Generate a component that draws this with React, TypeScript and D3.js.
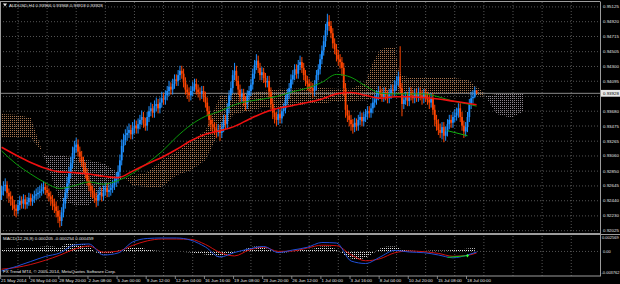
import React from "react";
import * as d3 from "d3";

const W = 620;
const H = 284;

// AUDUSD H4 candles, prices in 1/10000 units
const firstOpen = 9252;
const closes = [
  9258,9264,9266,9255,9250,9246,9238,9233,9230,9238,
  9244,9240,9246,9239,9242,9248,9243,9247,9251,9253,
  9255,9257,9260,9263,9259,9255,9250,9246,9240,9236,
  9230,9222,9216,9228,9240,9255,9268,9282,9296,9310,
  9318,9322,9312,9305,9298,9290,9282,9272,9265,9258,
  9254,9248,9244,9252,9255,9250,9258,9262,9256,9259,
  9262,9266,9270,9275,9284,9300,9320,9328,9335,9338,
  9342,9336,9345,9348,9344,9350,9356,9360,9351,9348,
  9360,9368,9372,9366,9375,9378,9372,9380,9386,9384,
  9390,9396,9402,9398,9406,9412,9410,9418,9424,9420,
  9408,9398,9394,9390,9396,9402,9406,9398,9394,9392,
  9396,9388,9380,9368,9356,9350,9346,9344,9340,9342,
  9338,9346,9356,9350,9372,9390,9400,9418,9424,9410,
  9398,9388,9392,9382,9378,9390,9396,9405,9420,9432,
  9438,9428,9418,9422,9414,9408,9410,9395,9378,9366,
  9360,9356,9364,9358,9368,9372,9384,9392,9400,9412,
  9418,9426,9420,9432,9436,9428,9418,9410,9406,9402,
  9400,9396,9404,9418,9426,9440,9452,9465,9480,9492,
  9486,9476,9462,9454,9446,9440,9436,9428,9400,9370,
  9362,9356,9350,9346,9352,9348,9356,9360,9354,9360,
  9364,9368,9366,9372,9380,9384,9390,9396,9392,9388,
  9394,9390,9386,9392,9398,9396,9404,9410,9416,9400,
  9378,9384,9388,9382,9394,9390,9386,9392,9388,9394,
  9390,9386,9392,9388,9384,9380,9386,9370,9356,9350,
  9342,9338,9346,9334,9340,9350,9356,9352,9360,9362,
  9366,9372,9360,9348,9340,9346,9360,9378,9386,9388,
  9397,9393,
];
const highs = [
  9265,9271,9275,9271,9261,9257,9251,9245,9239,9245,
  9251,9250,9253,9252,9249,9255,9254,9253,9258,9261,
  9263,9265,9268,9271,9269,9265,9261,9257,9252,9247,
  9243,9237,9231,9235,9248,9263,9277,9291,9305,9319,
  9327,9331,9329,9319,9313,9305,9297,9289,9279,9271,
  9265,9261,9255,9259,9263,9262,9265,9269,9268,9266,
  9269,9273,9277,9283,9293,9308,9329,9337,9343,9347,
  9351,9349,9353,9356,9355,9358,9363,9369,9367,9359,
  9367,9375,9380,9378,9383,9387,9385,9387,9395,9393,
  9397,9403,9410,9408,9413,9419,9419,9425,9431,9431,
  9427,9415,9405,9401,9403,9409,9413,9413,9405,9401,
  9403,9403,9395,9387,9375,9363,9357,9353,9351,9350,
  9349,9353,9363,9363,9379,9397,9409,9425,9435,9431,
  9417,9405,9399,9399,9389,9397,9403,9413,9427,9439,
  9447,9445,9435,9429,9428,9421,9417,9417,9401,9385,
  9373,9367,9371,9371,9375,9379,9391,9399,9407,9419,
  9425,9433,9433,9439,9445,9443,9435,9425,9417,9413,
  9409,9407,9411,9425,9433,9447,9459,9473,9489,9503,
  9501,9493,9483,9469,9461,9453,9447,9443,9435,9407,
  9377,9369,9363,9357,9359,9358,9363,9367,9366,9367,
  9371,9375,9375,9379,9387,9391,9397,9403,9403,9399,
  9401,9401,9397,9399,9405,9405,9411,9417,9423,9458,
  9407,9391,9395,9395,9401,9401,9397,9399,9399,9401,
  9401,9397,9399,9399,9395,9391,9393,9393,9377,9363,
  9357,9351,9353,9353,9347,9357,9363,9363,9367,9371,
  9373,9379,9379,9367,9355,9353,9367,9385,9395,9397,
  9402,9397,
];
const lows = [
  9245,9251,9257,9247,9241,9237,9231,9223,9221,9225,
  9231,9233,9233,9232,9233,9237,9237,9237,9241,9245,
  9246,9248,9251,9254,9252,9247,9243,9237,9231,9227,
  9221,9213,9207,9209,9221,9233,9247,9259,9275,9289,
  9303,9311,9305,9297,9291,9283,9275,9265,9257,9249,
  9247,9241,9235,9237,9245,9243,9244,9251,9249,9249,
  9251,9255,9259,9263,9268,9277,9293,9311,9321,9327,
  9331,9329,9329,9337,9337,9337,9343,9349,9345,9341,
  9341,9353,9361,9359,9359,9368,9365,9365,9373,9377,
  9377,9383,9389,9391,9391,9399,9403,9403,9411,9413,
  9401,9391,9385,9381,9383,9389,9395,9391,9387,9383,
  9385,9381,9373,9361,9347,9341,9337,9335,9331,9333,
  9327,9331,9339,9343,9343,9365,9383,9393,9411,9403,
  9391,9381,9381,9375,9369,9371,9383,9389,9398,9413,
  9425,9421,9411,9411,9407,9401,9401,9387,9371,9357,
  9351,9347,9349,9351,9351,9361,9365,9377,9385,9393,
  9405,9411,9413,9413,9425,9421,9411,9403,9397,9395,
  9393,9387,9389,9397,9411,9419,9433,9445,9457,9473,
  9479,9469,9455,9447,9437,9431,9427,9417,9389,9359,
  9353,9347,9341,9337,9339,9341,9341,9349,9347,9347,
  9353,9357,9359,9359,9365,9373,9377,9383,9385,9381,
  9381,9383,9379,9379,9385,9389,9389,9397,9403,9393,
  9361,9371,9377,9375,9375,9383,9379,9379,9381,9381,
  9383,9377,9379,9381,9377,9371,9373,9363,9347,9341,
  9335,9331,9329,9325,9327,9333,9343,9345,9345,9353,
  9355,9359,9353,9341,9331,9333,9339,9353,9371,9379,
  9386,9392,
];

// moving averages sampled every 8 bars (last sample at the final bar)
const maBars = [0,8,16,24,32,40,48,56,64,72,80,88,96,104,112,120,128,136,144,152,160,168,176,184,192,200,208,216,224,232,240,248,256,261];
const maRed = [9318,9307,9297,9289,9284,9283,9281,9278,9276,9285,9295,9304,9315,9327,9336,9341,9347,9357,9366,9372,9376,9380,9385,9392,9394,9390,9386,9388,9388,9387,9385,9382,9379,9377];
const maGreen = [9313,9295,9281,9269,9261,9265,9270,9267,9272,9282,9296,9312,9332,9349,9361,9368,9377,9382,9385,9389,9395,9400,9408,9419,9415,9403,9393,9392,9392,9392,9388,9382,9378,9375];

// Ichimoku cloud (Senkou spans), shifted 26 bars ahead
const cloudBars = [0,8,16,24,32,40,48,56,64,72,80,88,96,104,112,120,128,136,144,152,160,168,176,184,192,200,204,208,212,216,218,220,224,232,240,248,256,264,272,280,287];
const spanA = [9364,9363,9359,9300,9245,9238,9238,9258,9272,9279,9283,9300,9311,9327,9341,9389,9393,9393,9396,9399,9399,9400,9400,9399,9399,9408,9436,9453,9457,9457,9428,9417,9415,9414,9414,9414,9412,9396,9364,9359,9368];
const spanB = [9331,9331,9331,9307,9307,9304,9300,9296,9283,9265,9263,9263,9279,9286,9300,9341,9364,9368,9373,9373,9375,9378,9378,9382,9382,9383,9386,9390,9392,9393,9393,9393,9393,9392,9392,9392,9392,9388,9392,9392,9392];

// MACD (values in 1e-6)
const macdMain = [-3057,-2354,-1572,-791,-244,1007,1163,-557,-244,1475,2023,2101,2101,1757,694,-869,-166,381,772,-166,225,647,1397,1319,-1494,-1885,-869,163,-88,-197,-556,-994,-556,-88];
const macdSignal = [-2776,-2510,-2041,-1385,-588,350,850,-119,38,944,1647,1944,1944,1882,1085,-166,-697,225,663,6,69,538,975,897,-525,-1463,-1135,-213,69,-41,-306,-760,-603,-244];
const histBars = d3.range(0, 262, 4);
const histVals = [313,469,469,625,625,703,782,782,625,1250,1250,1250,782,-156,-469,-313,156,469,625,625,313,156,78,78,0,-78,-156,-313,-469,-625,-782,-625,-156,156,625,782,625,156,-156,-156,78,234,313,469,782,782,313,-469,-1094,-1250,-938,-313,469,782,782,313,156,78,78,156,156,156,234,313,469,547];

const priceTicks = ["0.95125","0.94920","0.94715","0.94505","0.94300","0.94095","0.93680","0.93475","0.93265","0.93060","0.92850","0.92645","0.92440","0.92230","0.92025"];
const hiddenTick = 0.93885;
const timeLabels = ["21 May 2014","26 May 04:00","28 May 20:00","2 Jun 08:00","5 Jun 00:00","9 Jun 12:00","12 Jun 04:00","16 Jun 16:00","19 Jun 08:00","23 Jun 20:00","26 Jun 12:00","1 Jul 00:00","3 Jul 16:00","8 Jul 04:00","10 Jul 20:00","15 Jul 08:00","18 Jul 00:00"];
const timeLabelBars = [0,16,32,48,64,80,96,112,128,144,160,176,192,208,224,240,256];

const currentPrice = 0.93928;
const titleText = "AUDUSD,H4  0.93966 0.93968 0.93918 0.93928";
const macdTitle = "MACD(12,26,9) 0.000205 -0.000254 0.000459";
const copyright = "FX Trend MT4, \u00a9 2005-2014, MetaQuotes Software Corp.";
const macdTicks = ["0.002569", "0.00", "-0.003762"];

const divPriceBars = [245, 256];
const divPrice = [9341, 9334];
const divMacd = [-916, -666];

export default function App() {
  const PIP = 10000;
  const MU = 1e6;
  const plotR = 600;
  const mainTop = 2, mainBot = 233.5;
  const subTop = 234.5, subBot = 276;
  const x = d3.scaleLinear().domain([0, 256]).range([1.6, 467.5]);
  const y = d3.scaleLinear().domain([0.9492, 0.92025]).range([21.7, 230.7]);
  const ym = d3.scaleLinear().domain([-0.003762, 0.002569]).range([275.5, 235]);
  const font = "'Liberation Sans', Arial, sans-serif";
  const fs = 4.4;
  const txt = "#e6e6e6";
  const grid = "#6a6a6a";
  const border = "#9c9c9c";
  const up = "#1E90FF";
  const dn = "#FF4500";

  const bars = closes.map((c, i) => ({
    i,
    o: i === 0 ? firstOpen : closes[i - 1],
    c,
    h: highs[i],
    l: lows[i],
  }));

  const maLine = d3.line<number>().x((_, k) => x(maBars[k])).y((v) => y(v / PIP)).curve(d3.curveMonotoneX);
  const areaCloud = d3.area<number>()
    .x((_, k) => x(cloudBars[k]))
    .y0((_, k) => y(spanB[k] / PIP))
    .y1((_, k) => y(spanA[k] / PIP))
    .curve(d3.curveLinear);
  const aboveB = d3.area<number>().x((_, k) => x(cloudBars[k])).y0(0).y1((v) => y(v / PIP)).curve(d3.curveLinear);
  const belowB = d3.area<number>().x((_, k) => x(cloudBars[k])).y0(H).y1((v) => y(v / PIP)).curve(d3.curveLinear);
  const macdLine = d3.line<number>().x((_, k) => x(maBars[k])).y((v) => ym(v / MU)).curve(d3.curveMonotoneX);
  const histArea = d3.area<number>().x((_, k) => x(histBars[k])).y0(ym(0)).y1((v) => ym(v / MU)).curve(d3.curveMonotoneX);
  const divLineP = d3.line<number>().x((_, k) => x(divPriceBars[k])).y((v) => y(v / PIP));
  const divLineM = d3.line<number>().x((_, k) => x(divPriceBars[k])).y((v) => ym(v / MU));

  const gridX = d3.range(9, 330, 16).map((b) => x(b)).filter((v) => v < plotR - 1);
  const gridY = [...priceTicks.map((t) => +t), hiddenTick];
  const markX = x(divPriceBars[1]);
  const markY = ym(divMacd[1] / MU);

  return (
    <svg width={W} height={H} style={{ position: "absolute", left: 0, top: 0, background: "#000" }}>
      <defs>
        <pattern id="sandy" width="2" height="2" patternUnits="userSpaceOnUse">
          <rect width="1" height="1" fill="#DC9A68" />
        </pattern>
        <pattern id="thistle" width="2" height="2" patternUnits="userSpaceOnUse">
          <rect width="1" height="1" fill="#C8BCC8" />
        </pattern>
        <pattern id="silver" width="2" height="2" patternUnits="userSpaceOnUse">
          <rect width="1" height="1" fill="#E0E0E0" />
        </pattern>
        <clipPath id="mainClip"><rect x={0} y={mainTop} width={plotR} height={mainBot - mainTop} /></clipPath>
        <clipPath id="subClip"><rect x={0} y={subTop} width={plotR} height={subBot - subTop} /></clipPath>
        <clipPath id="aboveB"><path d={aboveB(spanB) || ""} /></clipPath>
        <clipPath id="belowB"><path d={belowB(spanB) || ""} /></clipPath>
      </defs>
      <rect x={0} y={0} width={W} height={H} fill="#000" />

      {/* grid */}
      <g stroke={grid} strokeWidth={0.8} strokeDasharray="1,2">
        {gridY.map((t) => (
          <line key={t} x1={0} x2={plotR} y1={y(t)} y2={y(t)} />
        ))}
        <line x1={0} x2={plotR} y1={ym(0)} y2={ym(0)} />
        {gridX.map((gx, k) => (
          <line key={k} x1={gx} x2={gx} y1={mainTop} y2={subBot} />
        ))}
      </g>

      {/* main window */}
      <g clipPath="url(#mainClip)">
        <g clipPath="url(#aboveB)" opacity={0.75}>
          <path d={areaCloud(spanA) || ""} fill="url(#sandy)" />
        </g>
        <g clipPath="url(#belowB)" opacity={0.7}>
          <path d={areaCloud(spanA) || ""} fill="url(#thistle)" />
        </g>
        <line x1={0} x2={plotR} y1={y(currentPrice)} y2={y(currentPrice)} stroke="#8a8a8a" strokeWidth={1} />
        {bars.map((b) => {
          const col = b.c >= b.o ? up : dn;
          const cx = x(b.i);
          const yt = y(Math.max(b.o, b.c) / PIP);
          const yb = y(Math.min(b.o, b.c) / PIP);
          return (
            <g key={b.i}>
              <line x1={cx} x2={cx} y1={y(b.h / PIP)} y2={y(b.l / PIP)} stroke={col} strokeWidth={1} />
              <rect x={cx - 0.9} y={yt} width={1.8} height={Math.max(0.8, yb - yt)} fill={col} />
            </g>
          );
        })}
        <path d={maLine(maGreen) || ""} fill="none" stroke="#0B9A0B" strokeWidth={1} />
        <path d={maLine(maRed) || ""} fill="none" stroke="#F01010" strokeWidth={1.6} />
        <path d={divLineP(divPrice) || ""} fill="none" stroke="#10B010" strokeWidth={1} />
      </g>

      {/* MACD window */}
      <g clipPath="url(#subClip)">
        <path d={histArea(histVals) || ""} fill="url(#silver)" />
        <path d={macdLine(macdSignal) || ""} fill="none" stroke="#D01010" strokeWidth={1} />
        <path d={macdLine(macdMain) || ""} fill="none" stroke="#2050D8" strokeWidth={1} />
        <path d={divLineM(divMacd) || ""} fill="none" stroke="#10C010" strokeWidth={1} />
        <path d={`M${markX - 1.5},${markY}h3M${markX},${markY - 1.5}v3`} stroke="#30FF30" strokeWidth={1} />
      </g>

      {/* borders */}
      <g stroke={border} strokeWidth={1} fill="none">
        <line x1={0} x2={plotR} y1={1.5} y2={1.5} />
        <line x1={0.5} x2={0.5} y1={1.5} y2={subBot} />
        <line x1={plotR + 0.5} x2={plotR + 0.5} y1={1.5} y2={subBot} />
        <line x1={0} x2={plotR} y1={mainBot} y2={mainBot} />
        <line x1={0} x2={W} y1={subTop} y2={subTop} />
        <line x1={0} x2={plotR + 1} y1={subBot} y2={subBot} />
      </g>

      {/* price axis */}
      <g fontFamily={font} fontSize={fs} fill={txt}>
        {priceTicks.map((t) => (
          <text key={t} x={603} y={y(+t) + 1.5}>{t}</text>
        ))}
        <rect x={601} y={y(currentPrice) - 3.4} width={19} height={6.8} fill="#e8e8e8" />
        <text x={603} y={y(currentPrice) + 1.5} fill="#000">{currentPrice.toFixed(5)}</text>
      </g>
      <g fontFamily={font} fontSize={4} fill={txt}>
        <text x={602} y={238.8}>{macdTicks[0]}</text>
        <text x={603} y={ym(0) + 1.5}>{macdTicks[1]}</text>
        <text x={601.5} y={274.3}>{macdTicks[2]}</text>
      </g>

      {/* time axis */}
      <g fontFamily={font} fontSize={fs} fill={txt}>
        {timeLabels.map((t, k) => (
          <g key={t}>
            <line x1={x(timeLabelBars[k]) - 1} x2={x(timeLabelBars[k]) - 1} y1={subBot} y2={subBot + 3} stroke={border} strokeWidth={0.8} />
            <text x={x(timeLabelBars[k]) - 0.5} y={281.5}>{t}</text>
          </g>
        ))}
      </g>

      {/* labels */}
      <g fontFamily={font} fontSize={fs} fill={txt}>
        <path d="M3,3.6 L7,3.6 L5,6.4 Z" fill="#e8e8e8" />
        <text x={9} y={6.8}>{titleText}</text>
        <text x={3} y={240.2}>{macdTitle}</text>
        <text x={3} y={272.5}>{copyright}</text>
      </g>
    </svg>
  );
}
